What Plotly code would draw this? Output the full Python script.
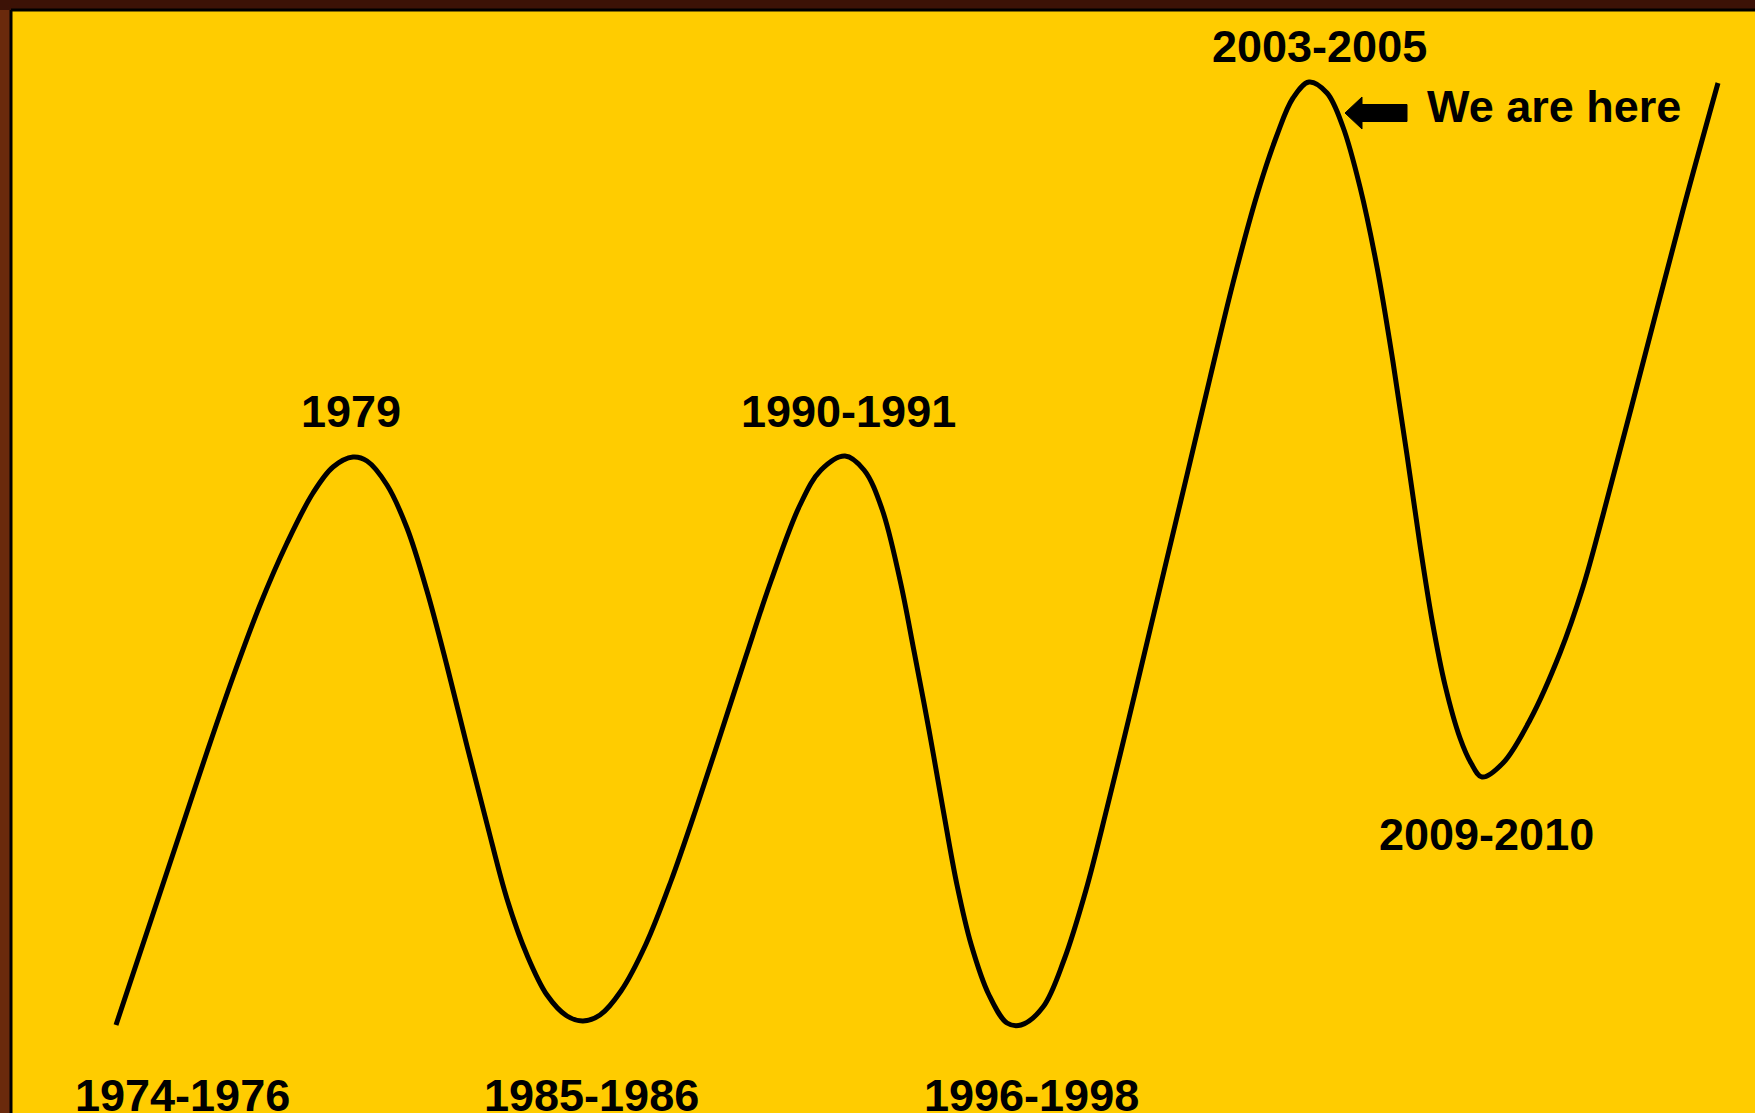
import plotly.graph_objects as go

# Curve: position (px from left) and level (px from bottom)
pos = [116, 133, 157, 183, 207, 233, 260, 287, 313, 333, 353,
       367, 387, 407, 427, 447, 467, 487, 507, 527, 547, 567, 583,
       600, 621, 646, 671, 696, 721, 746, 771, 800, 821, 845,
       864, 882, 900, 914, 929, 943, 957, 971, 989, 1007, 1021,
       1043, 1064, 1086, 1107, 1129, 1150, 1165, 1187, 1210, 1233, 1257, 1277, 1293, 1309,
       1327, 1343, 1360, 1377, 1393, 1407, 1420, 1432, 1445, 1460, 1471, 1482,
       1503, 1530, 1560, 1583, 1603, 1632, 1683, 1718]
ypix = [1025, 974, 902, 824, 752, 677, 605, 543, 493, 467, 457,
        461, 485, 528, 591, 666, 746, 824, 899, 955, 995, 1016, 1021,
        1015, 991, 944, 881, 809, 733, 656, 581, 505, 470, 456,
        470, 509, 580, 651, 730, 809, 885, 944, 995, 1023, 1025,
        1007, 960, 890, 808, 718, 630, 567, 475, 378, 283, 195, 135, 98, 82,
        93, 127, 187, 267, 362, 455, 545, 620, 685, 738, 763, 777,
        763, 720, 653, 587, 515, 405, 210, 83]
level = [1113 - v for v in ypix]

labels = ["1974-1976", "1979", "1985-1986", "1990-1991", "1996-1998", "2003-2005", "2009-2010"]
label_x = [182, 351, 591, 848, 1031, 1319, 1486]
label_ypix = [1095, 411, 1095, 411, 1095, 46, 834]
label_y = [1113 - v for v in label_ypix]

note_text = "We are here"
note_x = 1425
note_y = 1113 - 106

YELLOW = "#FFCC00"
BROWN = "#6a2a0c"
FONT = "Liberation Sans, Arial, sans-serif"

fig = go.Figure()
fig.add_trace(go.Scatter(x=pos, y=level, mode="lines",
                         line=dict(color="black", width=5, shape="spline", smoothing=1.0),
                         hoverinfo="skip", showlegend=False))

for t, x, y in zip(labels, label_x, label_y):
    fig.add_annotation(x=x, y=y, text="<b>%s</b>" % t, showarrow=False,
                       xanchor="center", yanchor="middle",
                       font=dict(family=FONT, size=45, color="black"))

fig.add_annotation(x=note_x, y=note_y, text="<b>%s</b>" % note_text, showarrow=False,
                   xanchor="left", yanchor="middle",
                   font=dict(family=FONT, size=45, color="black"))

# block arrow pointing at the peak
tip_x, base_x, tail_x = 1345, 1362, 1407
cy = 1113 - 113
arrow = (f"M {tip_x},{cy} L {base_x},{cy+16} L {base_x},{cy+8.5} L {tail_x},{cy+8.5} "
         f"L {tail_x},{cy-8.5} L {base_x},{cy-8.5} L {base_x},{cy-16} Z")
fig.add_shape(type="path", path=arrow, xref="x", yref="y",
              fillcolor="black", line=dict(color="black", width=1))

# wooden frame: darker top strip, black inner edge
fig.add_shape(type="rect", xref="paper", yref="paper", x0=-0.01, x1=1.01, y0=1, y1=1.02,
              fillcolor="#3c1206", line=dict(width=0), layer="below")
fig.add_shape(type="line", xref="paper", yref="paper", x0=0, x1=0, y0=0, y1=1.0,
              line=dict(color="black", width=3))
fig.add_shape(type="line", xref="paper", yref="paper", x0=0, x1=1, y0=1, y1=1,
              line=dict(color="black", width=3))

fig.update_layout(
    width=1755, height=1113,
    margin=dict(l=11, r=0, t=10, b=0),
    paper_bgcolor=BROWN,
    plot_bgcolor=YELLOW,
    xaxis=dict(range=[11, 1755], visible=False, fixedrange=True),
    yaxis=dict(range=[0, 1103], visible=False, fixedrange=True),
    showlegend=False,
)

fig.write_html(
    "out.html",
    config={"displayModeBar": False},
    post_script=("document.body.style.margin='0';"
                 "document.body.style.overflow='hidden';"
                 "document.body.style.background='%s';" % BROWN),
)
